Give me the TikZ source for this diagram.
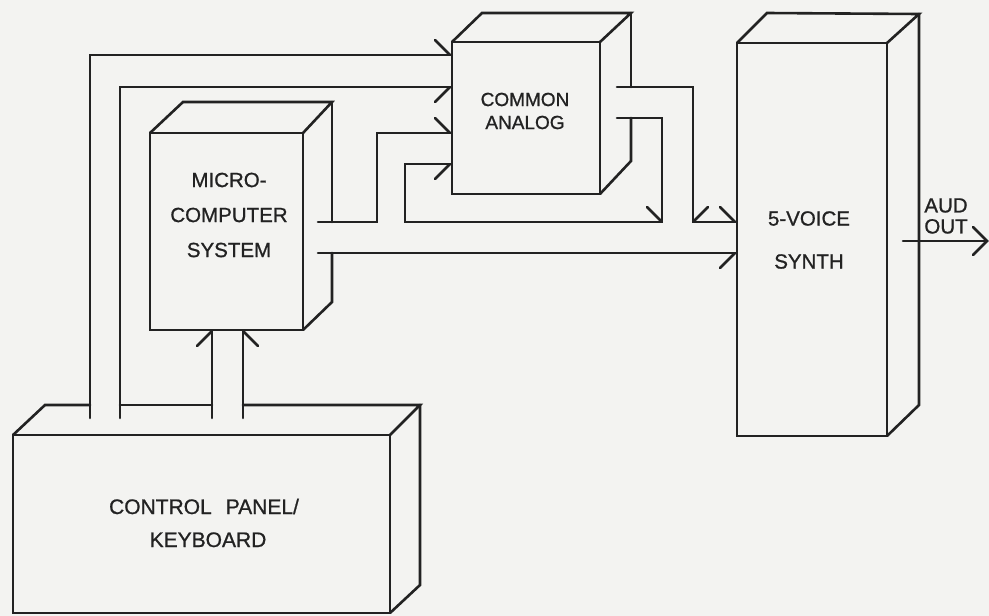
\documentclass[tikz,border=0pt]{standalone}
\usepackage{fontspec}
\setmainfont{Liberation Sans}
\newfontfamily\lettering{Liberation Sans}[FakeBold=0.9]
\definecolor{paper}{RGB}{243,243,241}
\definecolor{ink}{RGB}{34,34,34}
\tikzset{
  ln/.style={draw=ink, line width=2.6pt, line join=miter, line cap=round},
  lbl/.style={text=ink, inner sep=0pt, align=center, font=\lettering\fontsize{19}{23}\selectfont},
}
\begin{document}
\begin{tikzpicture}[x=1pt,y=-1pt]
\fill[paper] (0,0) rectangle (989,616);
\useasboundingbox (0,0) rectangle (989,616);

% ---------- Control panel / keyboard ----------
\draw[ln] (13,613) -- (13,435) -- (390,435) -- (390,613) -- cycle;
\draw[ln] (13,435) -- (45,405) -- (90,405);
\draw[ln] (120,405) -- (212,405);
\draw[ln] (243,405) -- (420,405) -- (390,435);
\draw[ln] (420,405) -- (420,585) -- (390,613);
\node[lbl, font=\lettering\fontsize{21}{33}\selectfont] (kb) at (204,523) {CONTROL\hspace{14pt}PANEL/\\\hspace*{8pt}KEYBOARD};

% ---------- Microcomputer ----------
\draw[ln] (150,330) -- (150,133) -- (303,133) -- (303,330) -- cycle;
\draw[ln] (150,133) -- (183,102) -- (332,102) -- (303,133);
\draw[ln] (332,102) -- (332,222);
\draw[ln] (332,253) -- (332,302) -- (303,330);
\node[lbl, font=\lettering\fontsize{20.5}{35}\selectfont] (mc) at (229,215) {MICRO-\\COMPUTER\\SYSTEM};

% ---------- Common analog ----------
\draw[ln] (452,194) -- (452,42) -- (600,42) -- (600,194) -- cycle;
\draw[ln] (452,42) -- (482,13) -- (631,13) -- (600,42);
\draw[ln] (631,13) -- (631,87);
\draw[ln] (631,118) -- (631,161) -- (600,194);
\node[lbl] (ca) at (525,111) {COMMON\\ANALOG};

% ---------- 5-voice synth ----------
\draw[ln] (737,436) -- (737,43) -- (887,43) -- (887,436) -- cycle;
\draw[ln] (737,43) -- (767,13) -- (919,14) -- (887,43);
\draw[ln] (919,14) -- (919,405) -- (887,436);
\node[lbl, font=\lettering\fontsize{20.5}{43}\selectfont] (sy) at (809,240) {5-VOICE\\SYNTH};

% ---------- buses: keyboard -> common analog ----------
\draw[ln] (90,418) -- (90,55) -- (450,55);
\draw[ln] (435,40) -- (450,55);
\draw[ln] (120,418) -- (120,87) -- (450,87);
\draw[ln] (435,102) -- (450,87);

% ---------- keyboard -> microcomputer ----------
\draw[ln] (212,418) -- (212,331);
\draw[ln] (197,346) -- (212,331);
\draw[ln] (243,418) -- (243,331);
\draw[ln] (258,346) -- (243,331);

% ---------- microcomputer -> common analog / synth ----------
\draw[ln] (318,222) -- (377,222) -- (377,133) -- (450,133);
\draw[ln] (435,118) -- (450,133);
\draw[ln] (318,253) -- (735,253);
\draw[ln] (720,268) -- (735,253);
\draw[ln] (450,164) -- (405,164) -- (405,222) -- (662,222) -- (662,118) -- (617,118);
\draw[ln] (435,179) -- (450,164);
\draw[ln] (647,207) -- (662,222);

% ---------- common analog -> synth ----------
\draw[ln] (617,87) -- (693,87) -- (693,222) -- (735,222);
\draw[ln] (708,207) -- (693,222);
\draw[ln] (720,207) -- (735,222);

% ---------- audio out ----------
\draw[ln] (903,241) -- (987,241);
\draw[ln] (973,227) -- (987,241) -- (973,255);
\node[lbl, font=\lettering\fontsize{20.5}{21}\selectfont] (aud) at (946,216) {AUD\\OUT};
\end{tikzpicture}
\end{document}
